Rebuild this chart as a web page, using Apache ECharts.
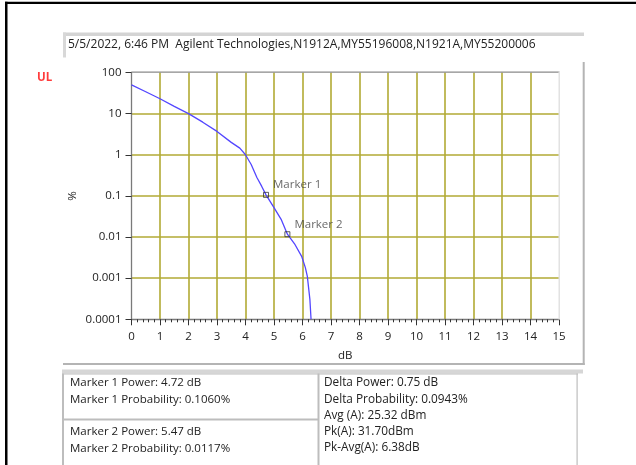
<!DOCTYPE html>
<html>
<head>
<meta charset="utf-8">
<script src="https://cdn.jsdelivr.net/npm/echarts@6/dist/echarts.min.js"></script>
<style>
html,body{margin:0;padding:0;background:#fff;}
#c{width:636px;height:465px;}
</style>
</head>
<body>
<div id="c"></div>
<script>
// ---- data ----
var dbValues   = [0, 0.5, 1, 1.5, 2, 2.5, 3, 3.5, 3.8, 4, 4.2, 4.4, 4.57, 4.72, 5.0, 5.25, 5.47, 5.74, 5.97, 6.1, 6.17, 6.26, 6.3];
var probValues = [50, 34, 23, 15, 10, 6.2, 3.7, 2.0, 1.45, 1.0, 0.58, 0.28, 0.17, 0.106, 0.052, 0.027, 0.0117, 0.0065, 0.0034, 0.0018, 0.0011, 0.0003, 0.0001];
var markerNames = ['Marker 1', 'Marker 2'];
var markerDb    = [4.72, 5.47];
var markerProb  = [0.106, 0.0117];
var xTickLabels = ['0','1','2','3','4','5','6','7','8','9','10','11','12','13','14','15'];
var yTickLabels = ['0.0001','0.001','0.01','0.1','1','10','100'];
var xAxisTitle = 'dB';
var yAxisTitle = '%';
var headerText = '5/5/2022, 6:46 PM  Agilent Technologies,N1912A,MY55196008,N1921A,MY55200006';
var tableLeft1 = ['Marker 1 Power: 4.72 dB', 'Marker 1 Probability: 0.1060%'];
var tableLeft2 = ['Marker 2 Power: 5.47 dB', 'Marker 2 Probability: 0.0117%'];
var tableRight = ['Delta Power: 0.75 dB', 'Delta Probability: 0.0943%', 'Avg (A): 25.32 dBm', 'Pk(A): 31.70dBm', 'Pk-Avg(A): 6.38dB'];

var FONT = '"Open Sans", "Noto Sans", sans-serif';
var TXT = '#222';

var curve = dbValues.map(function (d, i) { return [d, probValues[i]]; });
var markers = markerDb.map(function (d, i) { return { name: markerNames[i], value: [d, markerProb[i]] }; });

function txt(x, y, s, extra) {
  var st = { text: s, x: x, y: y, fill: TXT, font: '11.5px ' + FONT, textVerticalAlign: 'middle' };
  if (extra) for (var k in extra) st[k] = extra[k];
  return { type: 'text', style: st, z: 10 };
}
function rect(x, y, w, h, fill) {
  return { type: 'rect', shape: { x: x, y: y, width: w, height: h }, style: { fill: fill }, z: 5 };
}

var graphics = [
  rect(5, 1.7, 631, 2.4, '#000'),
  rect(5, 1.7, 2.5, 464, '#000'),
  // header sunken box
  rect(63, 32.5, 521, 3.5, '#d4d4d4'),
  rect(63, 32.5, 3, 25, '#d8d8d8'),
  txt(68, 45, headerText, { font: '12px ' + FONT }),
  // chart panel borders
  rect(582.7, 62, 2, 303, '#b4b4b4'),
  rect(63, 363, 521.7, 2, '#b4b4b4'),
  // plot frame top / right
  rect(131.5, 71.5, 428, 1.2, '#8a8a8a'),
  rect(558.5, 71.5, 1.5, 248, '#e2e2e2'),
  // UL
  txt(37, 78, 'UL', { fill: '#ff3b3b', font: 'bold 11.5px ' + FONT }),
  // y axis title (rotated)
  { type: 'text', x: 73, y: 196, rotation: Math.PI / 2, z: 10,
    style: { text: yAxisTitle, x: 0, y: 0, fill: TXT, font: '11.5px ' + FONT,
      textAlign: 'center', textVerticalAlign: 'middle' } },
  // table
  rect(62, 369.5, 521, 4, '#d6d6d6'),
  rect(62, 373.5, 2, 92, '#bdbdbd'),
  rect(62, 373.5, 516, 1, '#bdbdbd'),
  rect(576.5, 373.5, 1.2, 92, '#bdbdbd'),
  rect(317.5, 373.5, 2, 92, '#bdbdbd'),
  rect(62, 418.5, 256, 2, '#bdbdbd')
];
[tableLeft1[0], tableLeft1[1]].forEach(function (s, i) { graphics.push(txt(70, 383 + i * 16.5, s)); });
[tableLeft2[0], tableLeft2[1]].forEach(function (s, i) { graphics.push(txt(70, 432 + i * 16.5, s)); });
var rightY = [383, 399.5, 415.5, 432, 448];
tableRight.forEach(function (s, i) { graphics.push(txt(324, rightY[i], s, { font: '11.8px ' + FONT })); });

var chart = echarts.init(document.getElementById('c'), null, { renderer: 'canvas' });
chart.setOption({
  animation: false,
  backgroundColor: '#fff',
  grid: { left: 131.5, top: 72.5, right: 77, bottom: 145.7, containLabel: false },
  xAxis: {
    type: 'value', min: 0, max: 15, interval: 1,
    name: xAxisTitle, nameLocation: 'middle', nameGap: 30,
    nameTextStyle: { color: TXT, fontFamily: FONT, fontSize: 11.5 },
    axisLine: { show: true, lineStyle: { color: '#7a7a7a', width: 1.3 } },
    axisTick: { show: true, inside: false, length: 6, lineStyle: { color: '#333', width: 1 } },
    minorTick: { show: true, splitNumber: 5, length: 3, lineStyle: { color: '#333', width: 1 } },
    axisLabel: { color: TXT, fontFamily: FONT, fontSize: 11.5, margin: 11,
      formatter: function (v) { return xTickLabels[Math.round(v)]; } },
    splitLine: { show: true, showMinLine: false, showMaxLine: false, lineStyle: { color: '#b2aa34', width: 1.6 } }
  },
  yAxis: {
    type: 'log', logBase: 10, min: 0.0001, max: 100,
    axisLine: { show: true, lineStyle: { color: '#7a7a7a', width: 1.3 } },
    axisTick: { show: true, inside: false, length: 6, lineStyle: { color: '#333', width: 1 } },
    axisLabel: { color: TXT, fontFamily: FONT, fontSize: 11.5, margin: 10,
      formatter: function (v) { return yTickLabels[Math.round(Math.log10(v)) + 4]; } },
    splitLine: { show: true, showMinLine: false, showMaxLine: false, lineStyle: { color: '#b2aa34', width: 1.6 } }
  },
  series: [
    {
      type: 'line', data: curve, showSymbol: false, symbol: 'none', smooth: false,
      lineStyle: { color: '#5346ff', width: 1.3 }, z: 3
    },
    {
      type: 'scatter', data: markers, symbol: 'rect', symbolSize: 5,
      itemStyle: { color: 'rgba(255,255,255,0)', borderColor: '#333', borderWidth: 1 },
      label: { show: true, position: 'right', distance: 4, offset: [0, -10],
        formatter: function (p) { return p.name; },
        color: '#444', fontFamily: FONT, fontSize: 11.5 },
      z: 4
    }
  ],
  graphic: graphics
});
</script>
</body>
</html>
